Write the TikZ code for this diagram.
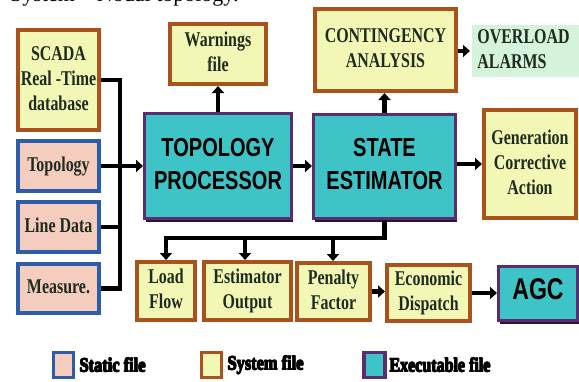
\documentclass[tikz,border=0pt]{standalone}
\usepackage{fontspec}
\usepackage{graphicx}
\setmainfont{Liberation Serif}
\newfontfamily\sansb{Liberation Sans}
\newfontfamily\legfont{Liberation Serif}
\usetikzlibrary{arrows.meta,shadows}
\definecolor{sysB}{HTML}{A9521B}
\definecolor{sysF}{HTML}{F3F7B5}
\definecolor{statB}{HTML}{2E5DA8}
\definecolor{statF}{HTML}{F4CDBE}
\definecolor{exeB}{HTML}{5B2C6F}
\definecolor{exeF}{HTML}{3EC3C6}
\definecolor{exeS}{HTML}{2A1530}
\definecolor{overF}{HTML}{D5F3DA}
\definecolor{txt}{HTML}{1E2B1E}
\newcommand{\sqz}[2][c]{\scalebox{0.76}[1]{\begin{tabular}{@{}#1@{}}#2\end{tabular}}}
\newcommand{\sqs}[1]{\scalebox{0.77}[1]{\begin{tabular}{@{}c@{}}#1\end{tabular}}}
\newcommand{\heavy}[1]{\rlap{#1}\rlap{\raisebox{0.5pt}{#1}}\kern0.5pt\rlap{#1}\rlap{\raisebox{0.5pt}{#1}}\kern0.5pt\rlap{\raisebox{0.5pt}{#1}}#1}
\tikzset{
  basebox/.style={rectangle, inner sep=0pt, line width=4pt, text=txt,
    font=\bfseries\fontsize{21}{25}\selectfont},
  sysf/.style={basebox, draw=sysB, fill=sysF},
  statf/.style={basebox, draw=statB, fill=statF},
  exef/.style={basebox, draw=exeB, fill=exeF, line width=3pt, text=black,
    font=\sansb\bfseries\fontsize{26}{33}\selectfont,
    drop shadow={shadow xshift=1pt, shadow yshift=-3.5pt, fill=exeS, opacity=1}},
  wire/.style={line width=4.5pt, black},
  arr/.style={wire, -{Triangle[length=7pt,width=12pt]}},
  legtext/.style={anchor=west, inner sep=0pt, font=\legfont\bfseries\fontsize{20}{20}\selectfont},
}
\begin{document}
\begin{tikzpicture}[x=1pt,y=-1pt]
\useasboundingbox (0,0) rectangle (579,381);
\begin{scope}
\clip (0,0) rectangle (579,381);
\node[anchor=base west, inner sep=0pt, font=\fontsize{22}{22}\selectfont] (cap) at (10,1.5) {System -- Nodal topology.};

% static files
\node[statf, minimum width=81, minimum height=50] (topo) at (58.5,166) {\sqz{Topology}};
\node[statf, minimum width=81, minimum height=50] (line) at (58.5,227) {\sqz{Line Data}};
\node[statf, minimum width=81, minimum height=49] (meas) at (58.5,288.5) {\sqz{Measure.}};
% system files
\node[sysf, minimum width=81, minimum height=100] (scada) at (58.5,80) {\sqz{SCADA\\Real -Time\\database}};
\node[sysf, minimum width=96, minimum height=60] (warn) at (218,54) {\sqz{Warnings\\file}};
\node[sysf, minimum width=141, minimum height=82] (cont) at (385.5,50) {\sqz{CONTINGENCY\\ANALYSIS}};
\node[sysf, minimum width=92, minimum height=108] (gen) at (530,164) {\sqz{Generation\\Corrective\\Action}};
\node[sysf, minimum width=58, minimum height=58] (lf) at (166,291) {\sqz{Load\\Flow}};
\node[sysf, minimum width=87, minimum height=58] (eo) at (247.5,291) {\sqz{Estimator\\Output}};
\node[sysf, minimum width=73, minimum height=57] (pf) at (333.5,291.5) {\sqz{Penalty\\Factor}};
\node[sysf, minimum width=83, minimum height=56] (ed) at (428.5,293) {\sqz{Economic\\Dispatch}};
% other
\node[basebox, fill=overF, draw=none, minimum width=107, minimum height=52] (over) at (525.5,51) {\hspace*{-4pt}\sqz[l]{OVERLOAD\\ALARMS}};
% executables
\node[exef, minimum width=147, minimum height=105] (tp) at (218,166) {\sqs{TOPOLOGY\\PROCESSOR}};
\node[exef, minimum width=142, minimum height=104] (se) at (384.5,166.5) {\sqs{STATE\\ESTIMATOR}};
\node[exef, minimum width=79, minimum height=54, font=\sansb\bfseries\fontsize{30}{30}\selectfont] (agc) at (538,293.5) {\sqs{AGC}};

% input bus
\coordinate (b1) at (120,80);
\coordinate (b2) at (120,288.5);
\draw[wire] (scada.east) -- (b1) -- (b2) -- (meas.east);
\draw[wire] (line.east) -- (line.east -| b1);
\draw[arr] (topo.east) -- (tp.west);

\draw[arr] (tp.north) -- (warn.south);
\draw[arr] (tp.east) -- (tp.east -| se.west);
\draw[arr] (se.north) -- (se.north |- cont.south);
\draw[arr] (cont.east |- over.west) -- (over.west);
\draw[arr] (se.east |- gen.west) -- (gen.west);

% output bus
\coordinate (j) at (384.5,238);
\coordinate (jl) at (166,238);
\coordinate (je) at (245,238);
\coordinate (jp) at (333,238);
\draw[wire] (se.south) -- (j) -- ([xshift=-2.25pt]jl);
\draw[arr] (jl) -- (lf.north);
\draw[arr] (je) -- (je |- eo.north);
\draw[arr] (jp) -- (jp |- pf.north);

\draw[arr] (pf.east) -- (pf.east -| ed.west);
\draw[arr] (ed.east) -- (ed.east -| agc.west);

% legend
\node[statf, line width=3.5pt, minimum width=20, minimum height=25] (lg1) at (63.5,365) {};
\node[legtext] (lt1) at (79,365) {\scalebox{0.82}[1]{\heavy{Static file}}};
\node[sysf, line width=3.5pt, minimum width=20, minimum height=25] (lg2) at (211.5,365) {};
\node[legtext] (lt2) at (227,365) {\scalebox{0.82}[1]{\heavy{System file}}};
\node[basebox, draw=exeB, fill=exeF, line width=3.5pt, minimum width=21, minimum height=25] (lg3) at (374.5,365) {};
\node[legtext] (lt3) at (389,365) {\scalebox{0.8}[1]{\heavy{Executable file}}};
\end{scope}
\end{tikzpicture}
\end{document}
